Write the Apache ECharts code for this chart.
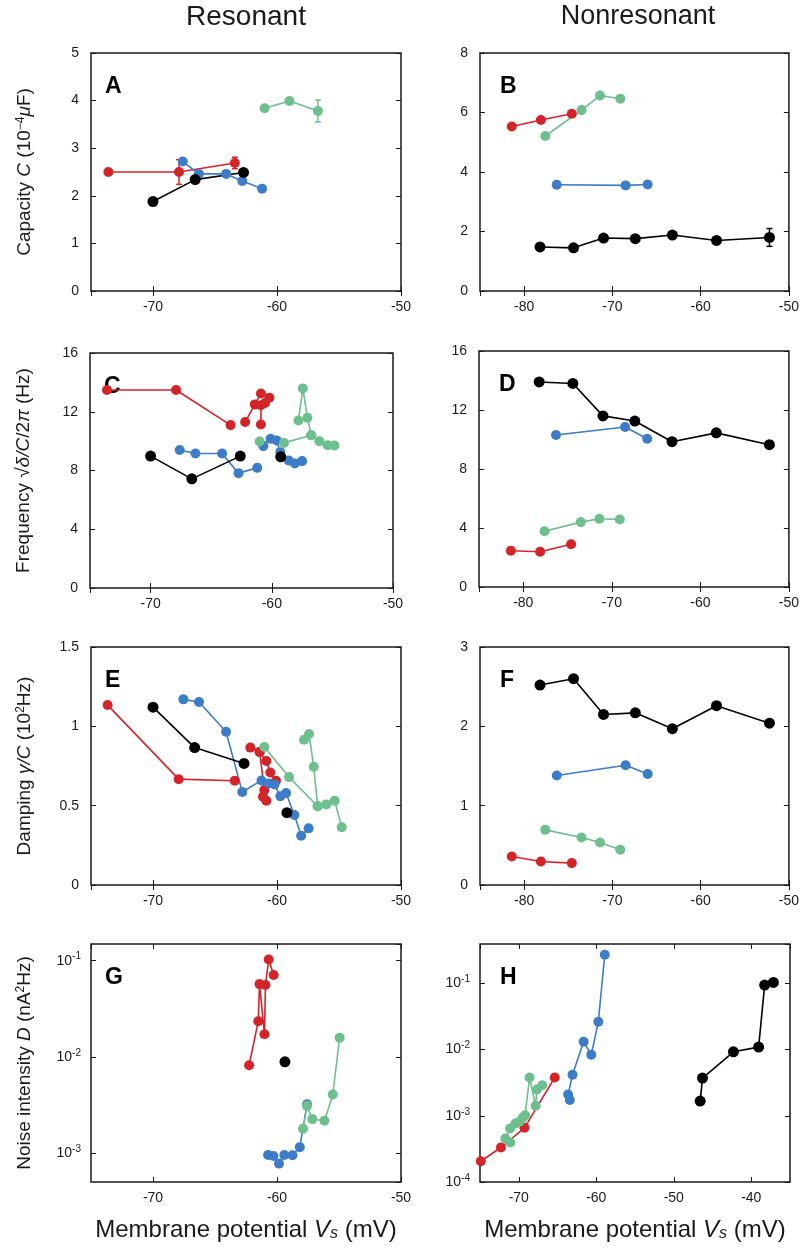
<!DOCTYPE html>
<html>
<head>
<meta charset="utf-8">
<script src="https://cdn.jsdelivr.net/npm/echarts@6/dist/echarts.min.js"></script>
<style>
html, body { margin: 0; padding: 0; background: #fff; }
#main { width: 802px; height: 1254px; }
</style>
</head>
<body>
<div id="main"></div>
<script>
// ---- data ----
// resonant, capacity (A)
var aRedV = [-73.6, -67.9, -63.4];
var aRedC = [2.50, 2.50, 2.69];
var aRedErr = [0, 0.26, 0.12];
var aBlueV = [-67.6, -66.3, -64.1, -62.8, -61.2];
var aBlueC = [2.72, 2.46, 2.46, 2.31, 2.15];
var aBlackV = [-70.0, -66.6, -62.7];
var aBlackC = [1.88, 2.34, 2.49];
var aGreenV = [-61.0, -59.0, -56.7];
var aGreenC = [3.84, 3.99, 3.78];
var aGreenErr = [0, 0, 0.23];

// nonresonant voltages (B, D, F share them)
var nrRedV = [-81.4, -78.1, -74.6];
var nrGreenV = [-77.6, -73.5, -71.4, -69.1];
var nrBlueV = [-76.3, -68.5, -66.0];
var nrBlackV = [-78.2, -74.4, -71.0, -67.4, -63.2, -58.2, -52.2];

// B capacity
var bRed = [5.53, 5.75, 5.96];
var bGreen = [5.21, 6.08, 6.57, 6.46];
var bBlue = [3.57, 3.55, 3.58];
var bBlack = [1.48, 1.45, 1.78, 1.76, 1.88, 1.70, 1.80];
var bBlackErr = [0, 0, 0, 0, 0, 0, 0.3];

// D frequency
var dRed = [2.46, 2.39, 2.90];
var dGreen = [3.78, 4.40, 4.63, 4.58];
var dBlue = [10.30, 10.85, 10.05];
var dBlack = [13.9, 13.8, 11.6, 11.25, 9.85, 10.45, 9.65];

// F damping
var fRed = [0.36, 0.297, 0.276];
var fGreen = [0.695, 0.598, 0.536, 0.444];
var fBlue = [1.38, 1.51, 1.40];
var fBlack = [2.52, 2.60, 2.15, 2.17, 1.97, 2.26, 2.04];

// C frequency (resonant)
var cRed1V = [-73.6, -67.9, -63.4];
var cRed1 = [13.48, 13.48, 11.09];
var cRed2V = [-62.2, -61.4, -60.9, -60.2, -60.55, -60.9, -60.9];
var cRed2 = [11.3, 12.5, 13.24, 12.95, 12.6, 12.45, 11.13];
var cBlue1V = [-67.6, -66.3, -64.1, -62.75, -61.2];
var cBlue1 = [9.39, 9.16, 9.16, 7.82, 8.18];
var cBlue2V = [-60.7, -60.1, -59.6, -59.3, -58.6, -58.1, -57.5];
var cBlue2 = [9.66, 10.16, 10.05, 9.25, 8.68, 8.48, 8.64];
var cGreen1V = [-61.0, -59.0, -56.75, -56.07, -55.4, -54.83];
var cGreen1 = [9.97, 9.88, 10.4, 9.99, 9.72, 9.70];
var cGreen2V = [-57.8, -57.44, -57.06, -56.75];
var cGreen2 = [11.4, 13.59, 11.59, 10.4];
var cBlack1V = [-70.0, -66.6, -62.6];
var cBlack1 = [8.98, 7.43, 8.98];
var cBlack2V = [-59.26];
var cBlack2 = [8.93];

// E damping (resonant)
var eRed1V = [-73.66, -67.93, -63.41];
var eRed1 = [1.134, 0.667, 0.657];
var eRed2V = [-62.15, -61.4, -60.86, -60.54, -60.08];
var eRed2 = [0.866, 0.839, 0.782, 0.709, 0.657];
var eRed3V = [-61.4, -61.02, -61.13, -60.86];
var eRed3 = [0.839, 0.598, 0.556, 0.531];
var eBlueV = [-67.55, -66.29, -64.11, -62.8, -61.25, -60.67, -60.21, -59.73, -59.27, -58.6, -58.05, -57.45];
var eBlue = [1.17, 1.153, 0.966, 0.586, 0.659, 0.64, 0.634, 0.56, 0.58, 0.441, 0.31, 0.357];
var eGreen1V = [-61.02, -59.03, -56.72, -56.02, -55.35, -54.78];
var eGreen1 = [0.87, 0.68, 0.496, 0.508, 0.531, 0.364];
var eGreen2V = [-57.82, -57.42, -57.04, -56.72];
var eGreen2 = [0.916, 0.952, 0.745, 0.496];
var eBlack1V = [-70.0, -66.64, -62.66];
var eBlack1 = [1.121, 0.866, 0.766];
var eBlack2V = [-59.2];
var eBlack2 = [0.456];

// G noise intensity (resonant)
var gRedV = [-62.25, -61.51, -61.41, -61.01, -60.93, -60.67, -60.27];
var gRed = [0.00818, 0.0235, 0.0571, 0.0172, 0.0558, 0.103, 0.071];
var gBlueV = [-60.72, -60.29, -59.84, -59.41, -58.75, -58.16, -57.58];
var gBlue = [0.000953, 0.00093, 0.000775, 0.000953, 0.000946, 0.00115, 0.00321];
var gGreenV = [-57.9, -57.58, -57.15, -56.17, -55.5, -54.95];
var gGreen = [0.00179, 0.00309, 0.00225, 0.00216, 0.00406, 0.0158];
var gBlackV = [-59.36];
var gBlack = [0.00887];

// H noise intensity (nonresonant)
var hRedV = [-74.9, -72.3, -69.26, -65.36];
var hRed = [0.000206, 0.000332, 0.000659, 0.00379];
var hGreenV = [-71.08, -71.73, -71.13, -70.43, -69.91, -69.48, -69.18, -68.61, -67.83, -67.66, -66.97];
var hGreen = [0.000395, 0.000454, 0.000644, 0.000766, 0.000811, 0.000933, 0.00102, 0.00379, 0.00142, 0.0025, 0.0029];
var hBlueV = [-63.41, -63.63, -63.06, -61.63, -60.64, -59.73, -58.9];
var hBlue = [0.00173, 0.0021, 0.00417, 0.0131, 0.00836, 0.0264, 0.271];
var hBlackV = [-46.59, -46.29, -42.3, -39.05, -38.27, -37.14];
var hBlack = [0.00167, 0.00371, 0.00927, 0.0109, 0.0944, 0.1035];

// ---- styling ----
var RED = '#d3242a', BLUE = '#3d7cc6', GREEN = '#6dbf8d', BLACK = '#000000';
var FONT = '"Liberation Sans", Arial, Helvetica, sans-serif';
var INK = '#1a1a1a';

function zip(xs, ys) {
	return xs.map(function (x, i) { return [x, ys[i]]; });
}
function errData(xs, ys, es) {
	var out = [];
	xs.forEach(function (x, i) {
		if (es[i] > 0) out.push([x, ys[i] - es[i], ys[i] + es[i]]);
	});
	return out;
}
function logFmt(v) {
	var e = Math.round(Math.log(v) / Math.LN10);
	return '{b|10}{e|' + e + '}';
}

var nameRich = {
	n: { fontSize: 19, fontFamily: FONT, color: INK },
	i: { fontSize: 19, fontFamily: FONT, color: INK, fontStyle: 'italic' },
	s: { fontSize: 12, fontFamily: FONT, color: INK, verticalAlign: 'top', lineHeight: 12 },
	u: { fontSize: 13, fontFamily: FONT, color: INK, verticalAlign: 'bottom', lineHeight: 10 }
};

// panel layout: box = [left, top, width, height]
var panels = [
	{ letter: 'A', box: [91, 53, 310, 238], x: [-75, -50, 2], y: [0, 5, 1],
		yName: '{n|Capacity }{i|C}{n| (10}{s|−4}{i|μ}{n|F)}',
		lines: [[aRedV, aRedC, RED], [aBlueV, aBlueC, BLUE], [aGreenV, aGreenC, GREEN], [aBlackV, aBlackC, BLACK]],
		errs: [[aRedV, aRedC, aRedErr, RED], [aGreenV, aGreenC, aGreenErr, GREEN]] },
	{ letter: 'B', box: [480, 53, 310, 238], x: [-85, -50, 3], y: [0, 8, 2],
		lines: [[nrRedV, bRed, RED], [nrBlueV, bBlue, BLUE], [nrGreenV, bGreen, GREEN], [nrBlackV, bBlack, BLACK]],
		errs: [[nrBlackV, bBlack, bBlackErr, BLACK]] },
	{ letter: 'C', box: [90, 353, 303, 235], x: [-75, -50, 2], y: [0, 16, 4],
		yName: '{n|Frequency √}{i|δ/C}{n|/2}{i|π}{n| (Hz)}',
		lines: [[cRed1V, cRed1, RED], [cRed2V, cRed2, RED], [cBlue1V, cBlue1, BLUE], [cBlue2V, cBlue2, BLUE],
			[cGreen1V, cGreen1, GREEN], [cGreen2V, cGreen2, GREEN], [cBlack1V, cBlack1, BLACK], [cBlack2V, cBlack2, BLACK]] },
	{ letter: 'D', box: [479, 351, 311, 236], x: [-85, -50, 3], y: [0, 16, 4],
		lines: [[nrRedV, dRed, RED], [nrBlueV, dBlue, BLUE], [nrGreenV, dGreen, GREEN], [nrBlackV, dBlack, BLACK]] },
	{ letter: 'E', box: [91, 647, 310, 238], x: [-75, -50, 2], y: [0, 1.5, 0.5],
		yName: '{n|Damping }{i|γ/C}{n| (10}{s|2}{n|Hz)}',
		lines: [[eRed1V, eRed1, RED], [eRed2V, eRed2, RED], [eRed3V, eRed3, RED], [eBlueV, eBlue, BLUE],
			[eGreen1V, eGreen1, GREEN], [eGreen2V, eGreen2, GREEN], [eBlack1V, eBlack1, BLACK], [eBlack2V, eBlack2, BLACK]] },
	{ letter: 'F', box: [480, 647, 310, 238], x: [-85, -50, 3], y: [0, 3, 1],
		lines: [[nrRedV, fRed, RED], [nrBlueV, fBlue, BLUE], [nrGreenV, fGreen, GREEN], [nrBlackV, fBlack, BLACK]] },
	{ letter: 'G', box: [91, 944, 310, 238], x: [-75, -50, 2], log: [Math.pow(10, -3.302), Math.pow(10, -0.826)], logMinLabel: false,
		yName: '{n|Noise intensity }{i|D}{n| (nA}{s|2}{n|Hz)}', xName: true,
		lines: [[gRedV, gRed, RED], [gBlueV, gBlue, BLUE], [gGreenV, gGreen, GREEN], [gBlackV, gBlack, BLACK]] },
	{ letter: 'H', box: [480, 944, 310, 238], x: [-75, -35, 4], hideMaxX: true, log: [1e-4, Math.pow(10, -0.405)], logMinLabel: true,
		xName: true,
		lines: [[hRedV, hRed, RED], [hGreenV, hGreen, GREEN], [hBlueV, hBlue, BLUE], [hBlackV, hBlack, BLACK]] }
];

var grids = [], xAxes = [], yAxes = [], series = [], graphics = [];
var tick = { inside: true, length: 5, lineStyle: { color: INK, width: 1 } };
var labelStyle = { fontSize: 14, color: INK, fontFamily: FONT };

panels.forEach(function (p, i) {
	grids.push({ left: p.box[0], top: p.box[1], width: p.box[2], height: p.box[3],
		show: true, borderColor: INK, borderWidth: 1.5, backgroundColor: 'transparent' });

	var xb = {
		gridIndex: i, type: 'value', position: 'bottom', min: p.x[0], max: p.x[1], splitNumber: p.x[2],
		axisLine: { show: false }, axisTick: tick, splitLine: { show: false },
		axisLabel: Object.assign({ margin: 9, showMinLabel: false, showMaxLabel: !p.hideMaxX }, labelStyle)
	};
	if (p.xName) {
		xb.name = '{n|Membrane potential }{i|V}{u|s}{n| (mV)}';
		xb.nameLocation = 'middle';
		xb.nameGap = 36;
		xb.nameTextStyle = { rich: {
			n: { fontSize: 24, fontFamily: FONT, color: INK },
			i: { fontSize: 24, fontFamily: FONT, color: INK, fontStyle: 'italic' },
			u: { fontSize: 16, fontFamily: FONT, color: INK, fontStyle: 'italic', verticalAlign: 'bottom', lineHeight: 14 }
		} };
	}
	xAxes.push(xb);
	xAxes.push({ gridIndex: i, type: 'value', position: 'top', min: p.x[0], max: p.x[1], splitNumber: p.x[2],
		axisLine: { show: false }, axisTick: tick, splitLine: { show: false }, axisLabel: { show: false } });

	var yl, yr;
	if (p.log) {
		yl = { gridIndex: i, type: 'log', logBase: 10, position: 'left', min: p.log[0], max: p.log[1],
			axisLine: { show: false }, axisTick: tick, splitLine: { show: false },
			axisLabel: { margin: 10, showMinLabel: p.logMinLabel, showMaxLabel: false, formatter: logFmt,
				rich: { b: { fontSize: 14, color: INK, fontFamily: FONT, lineHeight: 18 },
					e: { fontSize: 10, color: INK, fontFamily: FONT, verticalAlign: 'top', lineHeight: 10 } } } };
		yr = { gridIndex: i, type: 'log', logBase: 10, position: 'right', min: p.log[0], max: p.log[1],
			axisLine: { show: false }, axisTick: tick, splitLine: { show: false }, axisLabel: { show: false } };
	} else {
		yl = { gridIndex: i, type: 'value', position: 'left', min: p.y[0], max: p.y[1], interval: p.y[2],
			axisLine: { show: false }, axisTick: tick, splitLine: { show: false },
			axisLabel: Object.assign({ margin: 12 }, labelStyle) };
		yr = { gridIndex: i, type: 'value', position: 'right', min: p.y[0], max: p.y[1], interval: p.y[2],
			axisLine: { show: false }, axisTick: tick, splitLine: { show: false }, axisLabel: { show: false } };
	}
	if (p.yName) {
		yl.name = p.yName;
		yl.nameLocation = 'middle';
		yl.nameGap = 57;
		yl.nameTextStyle = { rich: nameRich };
	}
	yAxes.push(yl);
	yAxes.push(yr);

	p.lines.forEach(function (l) {
		series.push({
			type: 'line', xAxisIndex: 2 * i, yAxisIndex: 2 * i,
			data: zip(l[0], l[1]),
			symbol: 'circle', symbolSize: l[2] === BLACK ? 11 : 10,
			lineStyle: { color: l[2], width: 1.6 },
			itemStyle: { color: l[2] },
			emphasis: { disabled: true },
			animation: false
		});
	});
	(p.errs || []).forEach(function (e) {
		var col = e[3];
		series.push({
			type: 'custom', xAxisIndex: 2 * i, yAxisIndex: 2 * i,
			data: errData(e[0], e[1], e[2]),
			encode: { x: 0, y: [1, 2] },
			animation: false,
			renderItem: function (params, api) {
				var x = api.value(0);
				var a = api.coord([x, api.value(1)]);
				var b = api.coord([x, api.value(2)]);
				var st = { stroke: col, lineWidth: 1.5 };
				return { type: 'group', children: [
					{ type: 'line', shape: { x1: a[0], y1: a[1], x2: b[0], y2: b[1] }, style: st },
					{ type: 'line', shape: { x1: a[0] - 3, y1: a[1], x2: a[0] + 3, y2: a[1] }, style: st },
					{ type: 'line', shape: { x1: b[0] - 3, y1: b[1], x2: b[0] + 3, y2: b[1] }, style: st }
				] };
			}
		});
	});

	// panel letter
	graphics.push({ type: 'text', left: p.box[0] + (p.box[0] > 400 ? 20 : 14), top: p.box[1] + 22,
		style: { text: p.letter, font: 'bold 23px ' + FONT, fill: '#000' } });
});

// column titles
graphics.push({ type: 'text', x: 246, y: 17, style: { text: 'Resonant', font: '28px ' + FONT, fill: INK, textAlign: 'center', textVerticalAlign: 'middle' } });
graphics.push({ type: 'text', x: 638, y: 17, style: { text: 'Nonresonant', font: '27px ' + FONT, fill: INK, textAlign: 'center', textVerticalAlign: 'middle' } });

var chart = echarts.init(document.getElementById('main'), null, { renderer: 'canvas' });
chart.setOption({
	backgroundColor: '#fff',
	animation: false,
	grid: grids,
	xAxis: xAxes,
	yAxis: yAxes,
	series: series,
	graphic: graphics
});
</script>
</body>
</html>
